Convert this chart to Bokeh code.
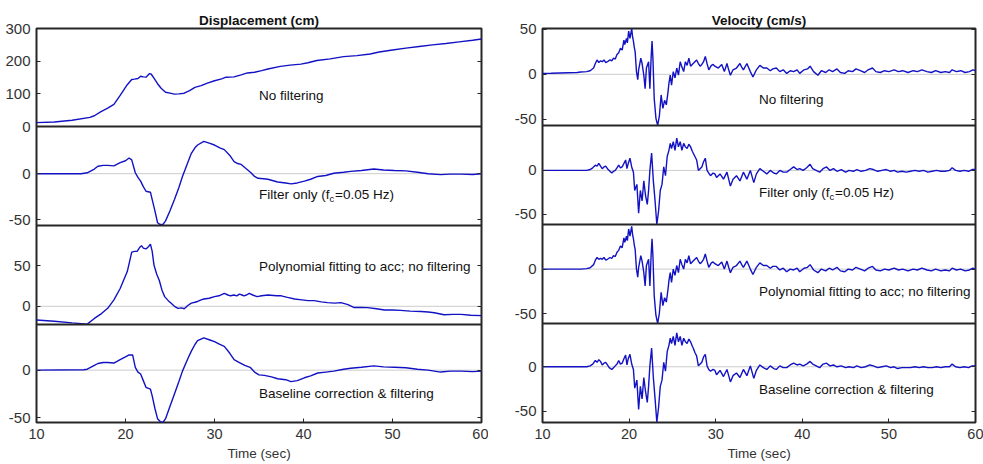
from bokeh.plotting import figure
from bokeh.models import Range1d, LinearAxis, FixedTicker, Span, Label, CustomJSTickFormatter
from bokeh.layouts import row
from bokeh.embed import file_html
from bokeh.resources import INLINE

# ---------------- data ----------------
x_ticks = [10, 20, 30, 40, 50, 60]

# Displacement (cm)
disp_raw_t = [10, 12, 14, 16, 16.5, 17.2, 18, 18.7, 19.4, 20.2,
              20.7, 21, 21.4, 21.7, 22, 22.3, 22.7, 22.9, 23.2, 23.6,
              24, 24.5, 25, 25.5, 26, 26.6, 27.2, 27.8, 28.5, 29.2,
              30, 30.8, 31.3, 32.2, 33, 33.7, 34.5, 35.3, 36, 37.4,
              38.5, 39.7, 40.5, 41.5, 43, 44.5, 46, 47.5, 48.5, 50,
              51.5, 53, 54.5, 56, 57.5, 59, 60]
disp_raw = [12, 14, 19, 28, 33, 45, 56, 68, 95, 128,
            144, 145, 147, 154, 152, 151, 162, 160, 148, 131,
            117, 105, 102, 99, 100, 102, 110, 120, 125, 133,
            140, 146, 151, 152, 158, 164, 166, 171, 176, 184,
            188, 191, 195, 202, 207, 214, 217, 222, 228, 234,
            240, 245, 250, 254, 259, 264, 268]

disp_filt_t = [10, 15, 15.7, 16.5, 16.9, 17.5, 18, 18.7, 19.4, 20,
               20.4, 20.7, 21.1, 21.4, 21.7, 22, 22.3, 22.8, 23, 23.3,
               23.6, 23.9, 24.2, 24.5, 25, 25.5, 26, 26.4, 27, 27.4,
               27.8, 28.1, 28.8, 29.4, 30, 30.6, 31.1, 31.7, 32.2, 32.6,
               33, 33.6, 34.1, 34.5, 34.9, 35.5, 36, 37.1, 38, 38.6,
               39.3, 40.1, 40.8, 41.6, 42.5, 43.4, 44.5, 45.3, 46.5, 47.9,
               49, 50.2, 51.5, 52.8, 54, 55.4, 56.5, 57.7, 59, 60]
disp_filt = [0, 0, 1, 5, 8, 9, 9, 8.5, 12, 14,
             17, 15, 1, -4, -8, -14, -19, -20, -28, -40,
             -53, -55, -55, -51, -40, -28, -15, -3, 12, 22,
             28, 31, 35, 33, 31, 28, 26, 20, 13, 11,
             10, 5, 1, -3, -5, -5.5, -6, -9, -10, -11,
             -10, -8, -6, -3, -2, 0.5, 1.5, 2.5, 3.5, 5,
             4, 3.5, 3, 1.5, 0, -1, -0.5, -0.5, -0.8, 0]

disp_poly_t = [10, 12, 14, 15.7, 16.5, 17.3, 18, 18.7, 19.4, 20.2,
               20.7, 21, 21.3, 21.6, 21.8, 22, 22.3, 22.6, 22.8, 23,
               23.2, 23.5, 23.8, 24.1, 24.4, 24.8, 25.1, 25.5, 25.9, 26.3,
               26.6, 27, 27.4, 27.8, 28.1, 28.5, 28.8, 29.4, 30, 30.5,
               31.1, 31.5, 31.8, 32.2, 32.5, 32.8, 33.1, 33.3, 33.6, 33.9,
               34.3, 34.8, 35.3, 36, 37, 37.5, 38.2, 39, 39.8, 40.5,
               41.2, 42, 42.7, 43.5, 44.2, 45, 45.7, 46.5, 47.2, 48.2,
               49.1, 50, 50.9, 52, 53.2, 54, 54.7, 55.8, 56.8, 57.7,
               58.8, 60]
disp_poly = [-17, -18.5, -20.5, -22, -15, -9, -2.5, 8, 22, 43,
             67, 68, 68, 73, 75, 72, 71, 74, 77, 68,
             51, 40, 32, 20, 12, 7, 4, 0, -2.5, -2,
             -3, 1, 4, 5, 6, 8, 9, 10, 12, 13,
             16, 14, 13, 14, 13, 15, 14, 13, 14, 16,
             14, 12, 13, 14, 13, 13, 11, 9, 8, 7,
             7, 5.5, 4.5, 4, 4.5, 2, -1.5, -1.5, -1.6, -3,
             -4.5, -4.5, -5, -6, -6.5, -7, -8, -10.5, -10, -10,
             -11, -11.5]

disp_base_t = [10, 15.3, 15.7, 16.5, 16.9, 17.5, 18, 18.7, 19.4, 20,
               20.4, 20.8, 21.1, 21.4, 21.7, 22, 22.3, 22.8, 23, 23.3,
               23.6, 23.9, 24.2, 24.5, 25, 25.5, 26, 26.4, 27, 27.4,
               27.8, 28.1, 28.8, 29.4, 30, 30.6, 31.1, 31.7, 32.2, 32.8,
               33.4, 34, 34.5, 35, 35.6, 36.4, 37.1, 38, 38.6, 39.3,
               40.1, 40.8, 41.6, 42.5, 43.4, 44.5, 45.3, 46.5, 47.9, 49,
               50.2, 51.5, 52.8, 54, 55.4, 56.5, 57.7, 59, 60]
disp_base = [0, 0.5, 1, 5, 7, 8, 8, 7.5, 11, 14,
             16, 16, 3, -2, -4, -11, -18, -20, -27, -40,
             -51, -54, -55, -51, -38, -25, -12, -1, 12, 20,
             27, 31, 34, 32, 30, 27, 25, 18, 11, 8,
             5, 3, -2, -5, -5.5, -7, -9, -10, -12, -11,
             -8, -6, -3, -2, -1, 1, 2, 3, 4.5, 3.5,
             3, 2.5, 1, 0, -2, -1, -1, -1.5, -1]

# Velocity (cm/s)
vel_t = [10, 11, 12, 13, 14, 14.4, 15.1, 15.5, 15.9, 16.1,
         16.3, 16.5, 16.7, 16.9, 17.1, 17.3, 17.5, 17.8, 18, 18.2,
         18.4, 18.6, 18.8, 19, 19.2, 19.4, 19.5, 19.7, 19.8, 19.95,
         20.1, 20.3, 20.4, 20.5, 20.6, 20.7, 20.85, 21, 21.1, 21.2,
         21.35, 21.5, 21.7, 21.85, 22, 22.25, 22.4, 22.55, 22.65, 22.75,
         22.9, 23.1, 23.3, 23.5, 23.7, 23.9, 24.1, 24.3, 24.5, 24.6,
         24.75, 24.9, 25.1, 25.3, 25.5, 25.7, 25.9, 26.1, 26.3, 26.5,
         26.7, 26.9, 27.1, 27.4, 27.6, 27.8, 28, 28.2, 28.4, 28.6,
         28.8, 29, 29.2, 29.5, 29.7, 29.9, 30.3, 30.7, 31, 31.3,
         31.5, 31.7, 32, 32.4, 32.8, 33, 33.2, 33.6, 34, 34.3,
         34.7, 35.1, 35.5, 35.9, 36.3, 36.6, 37, 37.4, 37.8, 38.2,
         38.6, 39, 39.4, 39.7, 40.2, 40.6, 40.9, 41.3, 41.8, 42.2,
         42.7, 43.1, 43.5, 44, 44.4, 44.9, 45.3, 45.8, 46.2, 46.7,
         47.2, 47.6, 48.1, 48.5, 49, 49.5, 50, 50.6, 51.1, 51.6,
         52.2, 52.8, 53.3, 53.8, 54.4, 54.9, 55.4, 56, 56.5, 57,
         57.3, 57.8, 58.3, 58.8, 59.3, 59.7, 60]
vel_raw = [1, 1.2, 1.5, 1.8, 2, 2.5, 3, 4, 7, 12,
           16, 13, 15, 14, 16, 13, 14, 16, 15, 18,
           17, 22, 24, 29, 27, 38, 33, 40, 35, 48,
           40, 51, 42, 37, 30, 25, 3, -6, 5, 10,
           18, 12, -1, -16, 7, 14, -16, 20, 37, 18,
           -27, -49, -57, -46, -23, -38, -29, -34, -19, -10,
           -1, -12, 3, -4, 7, -1, 14, 8, 3, 14,
           10, 18, 9, 12, 14, 16, 12, 9, 11, 14,
           20, 12, 5, 10, 11, 9, 7, 11, 3, 12,
           5, -1, 5, 7, 12, 8, 5, 12, 3, -3,
           5, 10, 7, 7, 4, 6, 7, 3, 5, 1,
           4, 3, 5, 1, 5, 6, 9, 3, -1, 4,
           2, 5, 3, 6, 2, 1, 4, 3, 6, 4,
           2, 5, 7, 3, 2, 4, 3, 5, 3, 4,
           2, 4, 3, 5, 3, 2, 4, 2, 3, 2,
           5, 3, 4, 2, 3, 5, 4]
vel_poly = [0, 0, 0, 0, 0, 0, 0.5, 1.5, 5, 10,
            13, 11, 12, 11, 13, 10, 11, 13, 12, 15,
            14, 19, 21, 26, 24, 35, 30, 37, 32, 45,
            37, 48, 39, 34, 27, 22, 0, -9, 2, 7,
            15, 9, -4, -19, 4, 11, -19, 17, 34, 15,
            -30, -52, -61, -49, -26, -41, -32, -37, -22, -13,
            -4, -15, 0, -7, 4, -4, 11, 5, 0, 11,
            7, 15, 6, 9, 11, 13, 9, 6, 8, 11,
            17, 9, 2, 7, 8, 6, 4, 8, 0, 9,
            2, -4, 2, 4, 9, 5, 2, 9, 0, -6,
            2, 7, 4, 4, 1, 3, 3, -1, 1, -3,
            0, -1, 1, -3, 1, 2, 5, -1, -4, 0,
            -2, 1, -1, 2, -2, -3, 0, -1, 2, 0,
            -2, 1, 3, -1, -2, 0, -1, 1, -1, 0,
            -2, 0, -1, 1, -1, -2, 0, -2, -1, -2,
            1, -1, 0, -2, -1, 1, 0]

vel_f_t = [10, 14.4, 15.1, 15.5, 15.8, 16.1, 16.3, 16.5, 16.7, 16.9,
           17.1, 17.3, 17.5, 17.7, 18, 18.2, 18.4, 18.6, 18.8, 19,
           19.2, 19.4, 19.6, 19.75, 19.9, 20.1, 20.3, 20.5, 20.65, 20.9,
           21.1, 21.3, 21.5, 21.7, 21.9, 22.1, 22.25, 22.4, 22.6, 22.8,
           23, 23.2, 23.4, 23.6, 23.8, 24, 24.2, 24.4, 24.6, 24.75,
           24.9, 25.1, 25.3, 25.5, 25.7, 25.9, 26.1, 26.3, 26.5, 26.7,
           26.9, 27.1, 27.3, 27.4, 27.6, 27.8, 28, 28.2, 28.4, 28.6,
           28.8, 29, 29.2, 29.4, 29.7, 29.9, 30.1, 30.5, 30.9, 31.3,
           31.7, 32, 32.4, 32.8, 33.2, 33.6, 34, 34.4, 34.7, 35.1,
           35.5, 35.9, 36.3, 36.7, 37, 37.4, 37.8, 38.2, 38.6, 39,
           39.4, 39.7, 40.1, 40.5, 40.9, 41.2, 41.6, 42, 42.4, 42.8,
           43.2, 43.6, 44, 44.5, 45, 45.4, 45.9, 46.3, 46.8, 47.3,
           47.8, 48.2, 48.7, 49.2, 49.7, 50.2, 50.6, 51, 51.5, 52,
           52.5, 53, 53.5, 54, 54.5, 55, 55.5, 56, 56.5, 57,
           57.3, 57.7, 58.2, 58.7, 59.2, 59.6, 60]
vel_filt = [0, 0, 0, 1, 3, 6, 5, 8, 5, 2,
            4, 5, 2, 0, -3, -1, 0, 3, 6, 3,
            4, 8, 12, 2, 8, 14, 4, -2, -23, -16,
            -49, -23, -35, -12, -29, -39, -23, 0, 20, -12,
            -35, -62, -47, -23, -16, 4, -6, 16, 23, 31,
            25, 33, 23, 37, 27, 33, 23, 31, 27, 25,
            30, 27, 22, 20, 16, 12, 0, 2, 4, 10,
            14, 0, -3, -6, -3, -4, -8, -4, -10, -2,
            -18, -10, -6, -12, -2, -10, 0, -14, -4, 2,
            -1, -4, 0, -3, -4, 0, -2, -2, 1, 4,
            1, 2, 0, 3, 7, 2, 0, -2, 2, 4,
            0, 2, -1, 1, -2, 0, -1, 1, -1, 0,
            2, 1, -1, 0, 1, -1, 0, -2, -1, -2,
            -1, 0, -1, 0, -2, -1, 0, -1, -1, 0,
            3, 0, -1, 0, -1, 1, 1]
vel_base = [0, 0, 0, 1, 3, 7, 5, 8, 6, 2,
            4, 5, 2, -1, -3, -1, 1, 3, 7, 3,
            4, 9, 13, 2, 9, 14, 3, -3, -24, -15,
            -48, -22, -36, -12, -28, -40, -22, 1, 21, -12,
            -36, -62, -46, -22, -15, 5, -5, 17, 24, 32,
            26, 34, 24, 38, 28, 34, 24, 32, 28, 26,
            31, 28, 23, 21, 16, 12, 1, 3, 5, 11,
            14, 1, -3, -5, -3, -4, -9, -4, -11, -3,
            -17, -10, -7, -12, -3, -10, 1, -13, -4, 2,
            -1, -3, 1, -2, -3, 1, -1, -1, 2, 4,
            2, 3, 1, 3, 6, 3, 1, -1, 3, 4,
            1, 2, 0, 1, -1, 0, -1, 1, -1, 0,
            2, 1, -1, 0, 1, -1, 0, -2, -1, -1,
            -1, 0, -1, 0, -1, -1, 0, -1, 0, 0,
            3, 0, -1, 0, -1, 1, 1]

panel_labels = ["No filtering", "Filter only (f", "Polynomial fitting to acc; no filtering",
                "Baseline correction & filtering"]

# ---------------- styling ----------------
FONT = "Liberation Sans"
LINE = "#1212c4"
DARK = "#262626"
TICK_TXT = "#333333"
TXT = "#111111"


def column_figure(width, height, bl, br, bt, bb, frame_h, title, panels):
    """One figure per column; every panel has its own y-range stacked in the frame.
    panels: list of (t, v, (lo, hi), yticks, label, label_y, zero_line, filt_label, (a, b))
    where (a, b) are the panel's bottom/top pixel rows inside the frame."""
    p = figure(width=width, height=height, x_range=Range1d(10, 60), y_range=Range1d(0, frame_h),
               output_backend="svg", toolbar_location=None,
               min_border_left=bl, min_border_right=br, min_border_top=bt, min_border_bottom=bb,
               x_axis_location="below", y_axis_location="left")
    p.grid.visible = False
    p.outline_line_color = DARK
    p.outline_line_width = 2
    p.background_fill_color = "white"
    p.border_fill_color = "white"

    p.title.text = title
    p.title.align = "center"
    p.title.text_font = FONT
    p.title.text_font_size = "13.5px"
    p.title.text_font_style = "bold"
    p.title.text_color = TXT
    p.title.standoff = 2

    extra = {}
    tick_pos, tick_lab = [], []
    for i, (t, v, yr, yticks, label, label_y, zero_line, filt_label, ab) in enumerate(panels):
        lo, hi = yr
        a, b = ab
        s = (hi - lo) / (b - a)
        start = lo - a * s
        name = "p%d" % i
        extra[name] = Range1d(start, start + frame_h * s)
        for yt in yticks:
            tick_pos.append(a + (yt - lo) / s)
            tick_lab.append(str(yt))
    p.extra_y_ranges = extra

    for i, (t, v, yr, yticks, label, label_y, zero_line, filt_label, ab) in enumerate(panels):
        name = "p%d" % i
        if zero_line:
            p.add_layout(Span(location=0, dimension="width", y_range_name=name,
                              line_color="#cccccc", line_width=1, level="underlay"))
        if i > 0:
            p.add_layout(Span(location=ab[1], dimension="width", line_color=DARK, line_width=2.2))
        p.line(t, v, y_range_name=name, line_color=LINE, line_width=1.4)
        p.add_layout(Label(x=35, y=label_y, y_range_name=name, text=label, text_font=FONT,
                           text_font_size="13.5px", text_baseline="middle", text_color=TXT))
        if filt_label:
            p.add_layout(Label(x=35, y=label_y, y_range_name=name, x_offset=70.5, y_offset=-4,
                               text="c", text_font=FONT, text_font_size="9.5px",
                               text_baseline="middle", text_color=TXT))
            p.add_layout(Label(x=35, y=label_y, y_range_name=name, x_offset=76,
                               text="=0.05 Hz)", text_font=FONT, text_font_size="13.5px",
                               text_baseline="middle", text_color=TXT))

    ya = p.yaxis[0]
    ya.ticker = FixedTicker(ticks=tick_pos)
    ya.formatter = CustomJSTickFormatter(args=dict(pos=tick_pos, labs=tick_lab), code="""
        for (let i = 0; i < pos.length; i++) {
            if (Math.abs(pos[i] - tick) < 0.01) { return labs[i]; }
        }
        return '';
    """)
    ya.major_tick_in = 4
    ya.major_tick_out = 0
    ya.major_tick_line_color = DARK
    ya.minor_tick_line_color = None
    ya.axis_line_color = None
    ya.major_label_text_font = FONT
    ya.major_label_text_font_size = "15px"
    ya.major_label_text_color = TICK_TXT
    ya.major_label_standoff = 6

    ra = LinearAxis(ticker=FixedTicker(ticks=tick_pos), major_tick_in=4, major_tick_out=0,
                    major_tick_line_color=DARK, minor_tick_line_color=None, axis_line_color=None,
                    major_label_standoff=0, major_label_text_font_size="0px",
                    formatter=CustomJSTickFormatter(code="return ''"))
    p.add_layout(ra, "right")

    xa = p.xaxis[0]
    xa.ticker = FixedTicker(ticks=x_ticks)
    xa.major_tick_in = 4
    xa.major_tick_out = 0
    xa.major_tick_line_color = DARK
    xa.minor_tick_line_color = None
    xa.axis_line_color = None
    xa.major_label_text_font = FONT
    xa.major_label_text_font_size = "14.5px"
    xa.major_label_text_color = TICK_TXT
    xa.major_label_standoff = 6
    xa.axis_label = "Time (sec)"
    xa.axis_label_text_font = FONT
    xa.axis_label_text_font_size = "13.5px"
    xa.axis_label_text_font_style = "normal"
    xa.axis_label_text_color = TICK_TXT
    xa.axis_label_standoff = 4
    return p


# left column: frame rows 24..422 of the window -> 398 px, panel borders at 99/199/299 px
left = column_figure(
    488, 463, 36, 7, 24, 41, 398, "Displacement (cm)",
    [
        (disp_raw_t, disp_raw, (0, 300), [0, 100, 200, 300], panel_labels[0], 95, False, False, (299, 398)),
        (disp_filt_t, disp_filt, (-56, 51), [-50, 0], panel_labels[1], -23, True, True, (199, 299)),
        (disp_poly_t, disp_poly, (-22.5, 100), [0, 50], panel_labels[2], 49, True, False, (99, 199)),
        (disp_base_t, disp_base, (-55, 48), [-50, 0], panel_labels[3], -25, True, False, (0, 99)),
    ])

# right column: frame rows 28..422 -> 394 px, panel borders at 99/198/297 px
right = column_figure(
    495, 463, 54, 8, 28, 41, 394, "Velocity (cm/s)",
    [
        (vel_t, vel_raw, (-57, 51), [-50, 0, 50], panel_labels[0], -28, True, False, (297, 394)),
        (vel_f_t, vel_filt, (-62, 51.5), [-50, 0], panel_labels[1], -25, True, True, (198, 297)),
        (vel_t, vel_poly, (-61, 50), [-50, 0], panel_labels[2], -25, True, False, (99, 198)),
        (vel_f_t, vel_base, (-62.5, 48.5), [-50, 0], panel_labels[3], -25, True, False, (0, 99)),
    ])

layout = row(left, right, spacing=0)

open("out.html", "w").write(file_html(layout, INLINE))
